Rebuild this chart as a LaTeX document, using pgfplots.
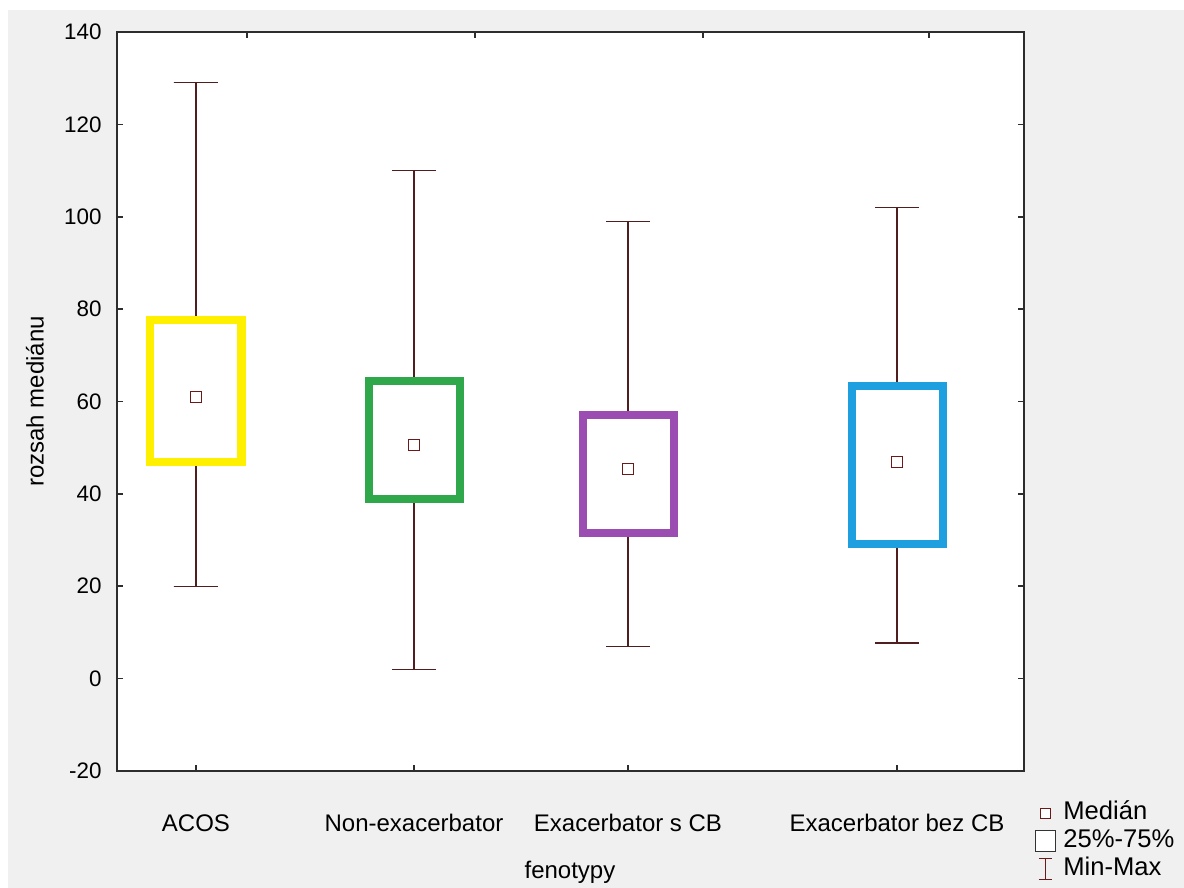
\documentclass[border=0pt]{standalone}
\usepackage{pgfplots}
\pgfplotsset{compat=1.18}
\usetikzlibrary{backgrounds}
\usepackage{fontspec}
\setmainfont{Liberation Sans}
\definecolor{bgray}{RGB}{240,240,240}
\definecolor{whisk}{RGB}{80,30,30}
\definecolor{medc}{RGB}{110,25,25}
\definecolor{cyel}{RGB}{255,240,0}
\definecolor{cgrn}{RGB}{46,168,74}
\definecolor{cpur}{RGB}{155,77,178}
\definecolor{cblu}{RGB}{30,160,224}
\definecolor{framec}{RGB}{45,45,45}
\pgfplotsset{
  whiskst/.style={forget plot, draw=whisk, line width=0.7pt, mark=none, unbounded coords=jump},
  boxst/.style={forget plot, draw=#1, line width=4pt, mark=none, line join=miter},
}
\begin{document}
\begin{tikzpicture}
\begin{axis}[
  scale only axis, width=453.5pt, height=369.5pt,
  xmin=117, xmax=1024, ymin=-20, ymax=140,
  axis background/.style={fill=white},
  axis line style={draw=framec, line width=1pt},
  xtick={196,414,628,897},
  xticklabels={ACOS, Non-exacerbator, Exacerbator s CB, Exacerbator bez CB},
  xtick pos=left, xticklabel pos=left,
  ytick={-20,0,20,40,60,80,100,120,140},
  ytick pos=both, yticklabel pos=left,
  tick align=inside,
  major tick length=3pt,
  tick style={draw=framec, line width=0.8pt},
  /pgf/number format/assume math mode=true,
  yticklabel style={font=\fontsize{11.2}{13}\selectfont, anchor=east, inner sep=0pt, xshift=-7.5pt},
  xticklabel style={font=\fontsize{12}{14}\selectfont, anchor=base, inner sep=0pt, yshift=-30.5pt},
  xlabel={fenotypy}, ylabel={rozsah mediánu},
  every axis x label/.style={at={(rel axis cs:0.4994,-0.1448)}, anchor=base, font=\fontsize{12}{14}\selectfont},
  every axis y label/.style={at={(rel axis cs:-0.0904,0.5)}, anchor=center, rotate=90, font=\fontsize{12}{14}\selectfont},
  legend style={at={(rel axis cs:1.0099,-0.040)}, anchor=north west, draw=none, fill=none,
    inner sep=0pt, row sep=1.6pt, column sep=3pt, font=\fontsize{12.8}{14}\selectfont,
    nodes={inner sep=0pt, text height=9.3pt, text depth=3pt}},
  legend cell align=left,
]
% whiskers (min-max): upper whisker + cap, jump, lower whisker + cap
\addplot[whiskst] coordinates {(196,77.7) (196,129) (174,129) (218,129) (196,nan) (196,46.9) (196,20) (174,20) (218,20)};
\addplot[whiskst] coordinates {(414,64.4) (414,110) (392,110) (436,110) (414,nan) (414,38.9) (414,2) (392,2) (436,2)};
\addplot[whiskst] coordinates {(628,57.1) (628,99) (606,99) (650,99) (628,nan) (628,31.5) (628,7) (606,7) (650,7)};
\addplot[whiskst] coordinates {(897,63.4) (897,102) (875,102) (919,102) (897,nan) (897,29.1) (897,7.7) (875,7.7) (919,7.7)};
% boxes (25%-75%)
\addplot[boxst=cyel] coordinates {(150.5,46.9) (241.5,46.9) (241.5,77.7) (150.5,77.7)} --cycle;
\addplot[boxst=cgrn] coordinates {(368.5,38.9) (459.5,38.9) (459.5,64.4) (368.5,64.4)} --cycle;
\addplot[boxst=cpur] coordinates {(582.5,31.5) (673.5,31.5) (673.5,57.1) (582.5,57.1)} --cycle;
\addplot[boxst=cblu] coordinates {(851.5,29.1) (942.5,29.1) (942.5,63.4) (851.5,63.4)} --cycle;
% medians
\addplot[forget plot, only marks, mark=square*, mark size=2.7pt, mark options={draw=medc, fill=white, line width=0.65pt}]
  coordinates {(196,61.0) (414,50.6) (628,45.4) (897,46.9)};
\addlegendimage{legend image code/.code={\path[draw=none,fill=none] (0pt,-5.5pt) rectangle (12pt,5.5pt); \draw[medc, fill=white, line width=0.65pt] (3.5pt,-2.5pt) rectangle (8.5pt,2.5pt);}}
\addlegendentry{Medián}
\addlegendimage{legend image code/.code={\path[draw=none,fill=none] (0pt,-5.5pt) rectangle (12pt,5.5pt); \draw[draw=black!80, fill=white, line width=0.65pt] (1pt,-5.3pt) rectangle (11pt,5.3pt);}}
\addlegendentry{25\%-75\%}
\addlegendimage{legend image code/.code={\path[draw=none,fill=none] (0pt,-5.5pt) rectangle (12pt,5.5pt); \draw[medc, line width=0.65pt] (6pt,-5.3pt) -- (6pt,5.3pt) (2.75pt,-5.3pt) -- (9.25pt,-5.3pt) (2.75pt,5.3pt) -- (9.25pt,5.3pt);}}
\addlegendentry{Min-Max}
\end{axis}
\begin{axis}[
  scale only axis, width=453.5pt, height=369.5pt,
  xmin=117, xmax=1024, ymin=-20, ymax=140,
  axis line style={draw=framec, line width=1pt},
  xtick={247,475,703,929}, xticklabels={},
  xtick pos=right, ytick=\empty,
  tick align=inside, major tick length=3pt,
  tick style={draw=framec, line width=0.8pt},
]
\end{axis}
\begin{scope}[on background layer]
\fill[white] (-58.5pt,-58.5pt) rectangle (533.5pt,385.5pt);
\fill[bgray] (-54.5pt,-58.5pt) rectangle (533.5pt,380.5pt);
\end{scope}
\pgfresetboundingbox
\useasboundingbox (-58.5pt,-58.5pt) rectangle (533.5pt,385.5pt);
\end{tikzpicture}
\end{document}
